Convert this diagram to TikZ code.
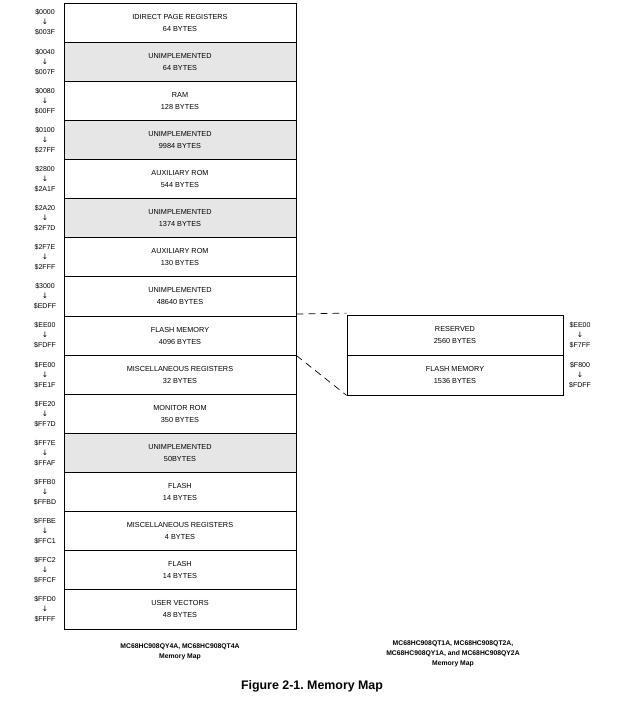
\documentclass[tikz,border=0pt]{standalone}
\usepackage{fontspec}
\setmainfont{Liberation Sans}
\newfontfamily\arrowfont{DejaVu Sans}
\newcommand{\dnarrow}{{\arrowfont\fontsize{7.5}{10}\selectfont ↓}}
\definecolor{unimpl}{RGB}{230,230,230}
\frenchspacing
\begin{document}
\begin{tikzpicture}[x=1pt,y=-1pt,
  memrow/.style={draw=black,line width=0.8pt,rectangle,inner sep=0pt,
    minimum width=232pt,minimum height=39.125pt,align=center,
    font=\fontsize{7.3}{12}\selectfont},
  grayrow/.style={memrow,fill=unimpl},
  siderow/.style={memrow,minimum width=216pt,minimum height=40pt},
  addr/.style={align=center,inner sep=0pt,font=\fontsize{7}{10}\selectfont},
  captext/.style={align=center,inner sep=0pt,font=\fontsize{6.8}{10}\selectfont\bfseries},
  zoomline/.style={draw=black,line width=0.7pt,dash pattern=on 7pt off 5pt}]
\useasboundingbox (0,0) rectangle (618,708);
\def\h{39.125}
% main column
\node[memrow]  (r1)  at (180,{3+0.5*\h})  {IDIRECT PAGE REGISTERS\\64 BYTES};
\node[grayrow] (r2)  at (180,{3+1.5*\h})  {UNIMPLEMENTED\\64 BYTES};
\node[memrow]  (r3)  at (180,{3+2.5*\h})  {RAM\\128 BYTES};
\node[grayrow] (r4)  at (180,{3+3.5*\h})  {UNIMPLEMENTED\\9984 BYTES};
\node[memrow]  (r5)  at (180,{3+4.5*\h})  {AUXILIARY ROM\\544 BYTES};
\node[grayrow] (r6)  at (180,{3+5.5*\h})  {UNIMPLEMENTED\\1374 BYTES};
\node[memrow]  (r7)  at (180,{3+6.5*\h})  {AUXILIARY ROM\\130 BYTES};
\node[memrow]  (r8)  at (180,{3+7.5*\h})  {UNIMPLEMENTED\\48640 BYTES};
\node[memrow]  (r9)  at (180,{3+8.5*\h})  {FLASH MEMORY\\4096 BYTES};
\node[memrow]  (r10) at (180,{3+9.5*\h})  {MISCELLANEOUS REGISTERS\\32 BYTES};
\node[memrow]  (r11) at (180,{3+10.5*\h}) {MONITOR ROM\\350 BYTES};
\node[grayrow] (r12) at (180,{3+11.5*\h}) {UNIMPLEMENTED\\50BYTES};
\node[memrow]  (r13) at (180,{3+12.5*\h}) {FLASH\\14 BYTES};
\node[memrow]  (r14) at (180,{3+13.5*\h}) {MISCELLANEOUS REGISTERS\\4 BYTES};
\node[memrow]  (r15) at (180,{3+14.5*\h}) {FLASH\\14 BYTES};
\node[memrow]  (r16) at (180,{3+15.5*\h}) {USER VECTORS\\48 BYTES};
% addresses
\node[addr] (a1)  at (45,{3+0.5*\h})  {\$0000\\\dnarrow\\\$003F};
\node[addr] (a2)  at (45,{3+1.5*\h})  {\$0040\\\dnarrow\\\$007F};
\node[addr] (a3)  at (45,{3+2.5*\h})  {\$0080\\\dnarrow\\\$00FF};
\node[addr] (a4)  at (45,{3+3.5*\h})  {\$0100\\\dnarrow\\\$27FF};
\node[addr] (a5)  at (45,{3+4.5*\h})  {\$2800\\\dnarrow\\\$2A1F};
\node[addr] (a6)  at (45,{3+5.5*\h})  {\$2A20\\\dnarrow\\\$2F7D};
\node[addr] (a7)  at (45,{3+6.5*\h})  {\$2F7E\\\dnarrow\\\$2FFF};
\node[addr] (a8)  at (45,{3+7.5*\h})  {\$3000\\\dnarrow\\\$EDFF};
\node[addr] (a9)  at (45,{3+8.5*\h})  {\$EE00\\\dnarrow\\\$FDFF};
\node[addr] (a10) at (45,{3+9.5*\h})  {\$FE00\\\dnarrow\\\$FE1F};
\node[addr] (a11) at (45,{3+10.5*\h}) {\$FE20\\\dnarrow\\\$FF7D};
\node[addr] (a12) at (45,{3+11.5*\h}) {\$FF7E\\\dnarrow\\\$FFAF};
\node[addr] (a13) at (45,{3+12.5*\h}) {\$FFB0\\\dnarrow\\\$FFBD};
\node[addr] (a14) at (45,{3+13.5*\h}) {\$FFBE\\\dnarrow\\\$FFC1};
\node[addr] (a15) at (45,{3+14.5*\h}) {\$FFC2\\\dnarrow\\\$FFCF};
\node[addr] (a16) at (45,{3+15.5*\h}) {\$FFD0\\\dnarrow\\\$FFFF};
% side column
\node[siderow] (q1) at (455,335) {RESERVED\\2560 BYTES};
\node[siderow] (q2) at (455,375) {FLASH MEMORY\\1536 BYTES};
\node[addr] (b1) at (580,335) {\$EE00\\\dnarrow\\\$F7FF};
\node[addr] (b2) at (580,375) {\$F800\\\dnarrow\\\$FDFF};
% zoom lines
\draw[zoomline] ([yshift=1.5pt]r9.north east) -- ([yshift=1.5pt]q1.north west);
\draw[zoomline] (r9.south east) -- (q2.south west);
% captions
\node[captext] (c1) at (180,652) {MC68HC908QY4A, MC68HC908QT4A\\Memory Map};
\node[captext] (c2) at (453,654) {MC68HC908QT1A, MC68HC908QT2A,\\MC68HC908QY1A, and MC68HC908QY2A\\Memory Map};
\node[inner sep=0pt,font=\fontsize{12.4}{14}\selectfont\bfseries] (fig) at (312,686) {Figure 2-1. Memory Map};
\end{tikzpicture}
\end{document}
